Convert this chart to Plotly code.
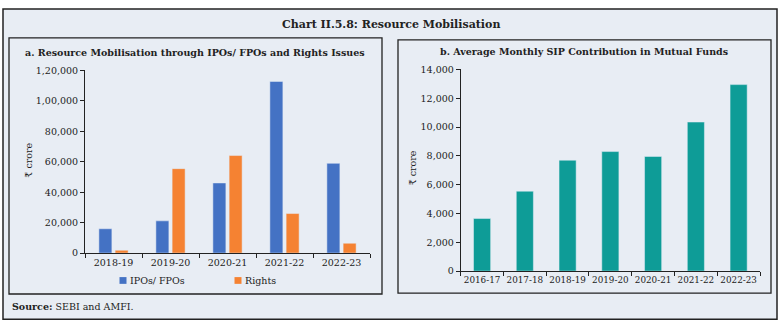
import plotly.graph_objects as go

# Panel a: resource mobilisation (₹ crore)
years_a = ["2018-19", "2019-20", "2020-21", "2021-22", "2022-23"]
ipos_fpos = [16000, 21200, 46100, 112800, 59000]
rights = [1900, 55500, 64100, 26000, 6500]
ticks_a = [0, 20000, 40000, 60000, 80000, 100000, 120000]
ticktext_a = ["0", "20,000", "40,000", "60,000", "80,000", "1,00,000", "1,20,000"]

# Panel b: average monthly SIP contribution (₹ crore)
years_b = ["2016-17", "2017-18", "2018-19", "2019-20", "2020-21", "2021-22", "2022-23"]
sip = [3650, 5550, 7700, 8300, 7960, 10350, 12950]
ticks_b = [0, 2000, 4000, 6000, 8000, 10000, 12000, 14000]
ticktext_b = ["0", "2,000", "4,000", "6,000", "8,000", "10,000", "12,000", "14,000"]

W, H = 783, 328
BG = "#E8EDF4"
INK = "#222222"
FONT = "DejaVu Serif"
BLUE, ORANGE, TEAL = "#4472C4", "#F58232", "#0E9C97"


def px(x):
    return x / W


def py(y):
    return 1 - y / H


fig = go.Figure()
fig.add_trace(go.Bar(x=years_a, y=ipos_fpos, name="IPOs/ FPOs", marker_color=BLUE,
                     xaxis="x", yaxis="y", showlegend=False))
fig.add_trace(go.Bar(x=years_a, y=rights, name="Rights", marker_color=ORANGE,
                     xaxis="x", yaxis="y", showlegend=False))
fig.add_trace(go.Bar(x=years_b, y=sip, name="SIP", marker_color=TEAL,
                     xaxis="x2", yaxis="y2", showlegend=False, width=0.4))

axis_common = dict(showline=True, linecolor=INK, linewidth=1, ticks="outside",
                   ticklen=4, tickcolor=INK, showgrid=False, zeroline=False)
tick_font = dict(family=FONT, size=9.5, color=INK)

fig.update_layout(
    width=W, height=H,
    margin=dict(l=0, r=0, t=0, b=0),
    paper_bgcolor="white",
    plot_bgcolor="rgba(0,0,0,0)",
    barmode="group", bargap=0.43, bargroupgap=0.2,
    font=dict(family=FONT, color=INK),
    showlegend=False,
    xaxis=dict(domain=[px(85), px(370)], anchor="y", tickson="boundaries",
               tickangle=0, tickfont=tick_font, **axis_common),
    yaxis=dict(domain=[py(255.7), py(66.7)], anchor="x", range=[0, 120000],
               tickvals=ticks_a, ticktext=ticktext_a, tickfont=tick_font, **axis_common),
    xaxis2=dict(domain=[px(460.7), px(760)], anchor="y2", tickson="boundaries",
                tickangle=0, tickfont=dict(family=FONT, size=8.8, color=INK),
                **axis_common),
    yaxis2=dict(domain=[py(274.3), py(65.7)], anchor="x2", range=[0, 14000],
                tickvals=ticks_b, ticktext=ticktext_b, tickfont=tick_font, **axis_common),
)

# Outer frame and panel frames
fig.add_shape(type="rect", xref="paper", yref="paper", layer="below",
              x0=px(3), x1=px(777), y0=py(324), y1=py(3),
              fillcolor=BG, line=dict(color=INK, width=1.5))
for (x0, y0, x1, y1) in [(9, 33, 382, 298), (398, 35, 771, 297)]:
    fig.add_shape(type="rect", xref="paper", yref="paper", layer="below",
                  x0=px(x0), x1=px(x1), y0=py(y1), y1=py(y0),
                  fillcolor=BG, line=dict(color=INK, width=1.3))

# Legend for panel a: colour swatch followed by series name
for (name, color, cx) in [("IPOs/ FPOs", BLUE, 123), ("Rights", ORANGE, 238)]:
    fig.add_shape(type="rect", xref="paper", yref="paper",
                  x0=px(cx - 3.5), x1=px(cx + 3.5), y0=py(287.5), y1=py(280.5),
                  fillcolor=color, line=dict(width=0))
    fig.add_annotation(text=name, x=px(cx + 5), y=py(284), xref="paper", yref="paper",
                       xanchor="left", yanchor="middle", showarrow=False,
                       font=dict(family=FONT, size=9.5, color=INK))

notes = [
    dict(text="<b>Chart II.5.8: Resource Mobilisation</b>", x=px(391), y=py(19),
         xanchor="center", size=11),
    dict(text="<b>a. Resource Mobilisation through IPOs/ FPOs and Rights Issues</b>",
         x=px(195), y=py(48), xanchor="center", size=9.5),
    dict(text="<b>b. Average Monthly SIP Contribution in Mutual Funds</b>",
         x=px(584), y=py(47.5), xanchor="center", size=9.5),
    dict(text="<b>Source:</b> SEBI and AMFI.", x=px(10), y=py(311),
         xanchor="left", size=9.5),
]
for n in notes:
    fig.add_annotation(text=n["text"], x=n["x"], y=n["y"], xref="paper", yref="paper",
                       xanchor=n["xanchor"], yanchor="middle", showarrow=False,
                       font=dict(family=FONT, size=n["size"], color=INK))

for (x, y) in [(29, 160), (412, 168)]:
    fig.add_annotation(text="₹ crore", x=px(x), y=py(y), xref="paper", yref="paper",
                       textangle=-90, showarrow=False, xanchor="center", yanchor="middle",
                       font=dict(family=FONT, size=9.5, color=INK))

fig.write_html("out.html")
